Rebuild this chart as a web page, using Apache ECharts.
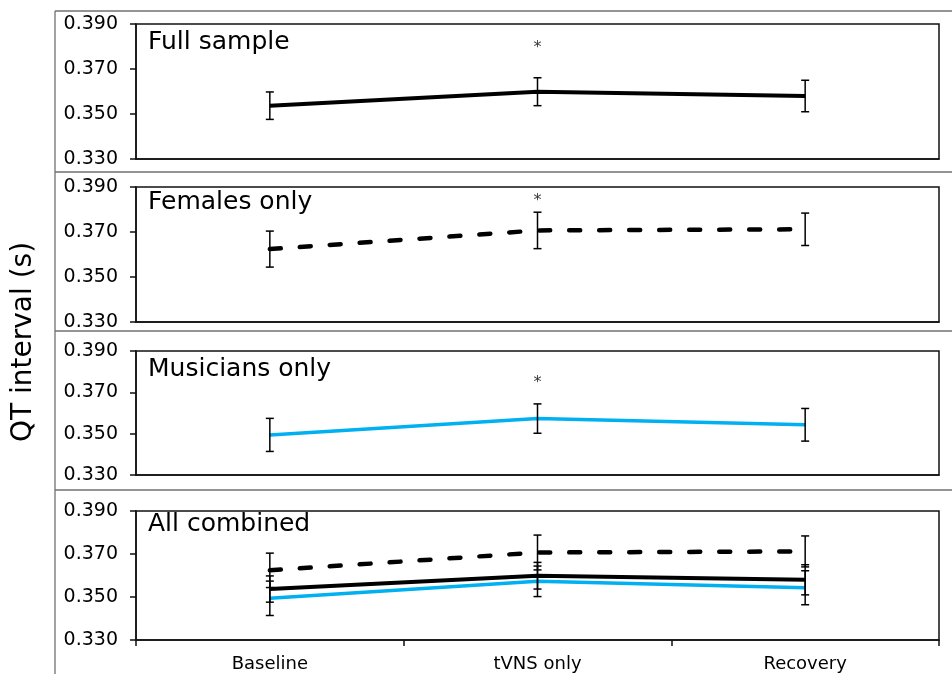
<!DOCTYPE html>
<html>
<head>
<meta charset="utf-8">
<script src="https://cdn.jsdelivr.net/npm/echarts@6/dist/echarts.min.js"></script>
<style>
  html, body { margin: 0; padding: 0; background: #fff; }
  #chart { width: 952px; height: 674px; }
</style>
</head>
<body>
<div id="chart"></div>
<script>
// ---- data ----
const categories = ['Baseline', 'tVNS only', 'Recovery'];
const fullMean = [0.3537, 0.3599, 0.3580];
const fullErr  = [0.0061, 0.0062, 0.0070];
const femMean  = [0.3624, 0.3707, 0.3712];
const femErr   = [0.0080, 0.0081, 0.0072];
const musMean  = [0.3494, 0.3573, 0.3543];
const musErr   = [0.0080, 0.0071, 0.0079];
const yTicks = [0.33, 0.35, 0.37, 0.39];
const panelTitles = ['Full sample', 'Females only', 'Musicians only', 'All combined'];
const starCategory = 'tVNS only';
const starValues = [0.3809, 0.3850, 0.3760];
const yTitle = 'QT interval (s)';

// ---- layout ----
const FONT = 'DejaVu Sans';
const gridBoxes = [
  { top: 24, height: 135 },
  { top: 187, height: 135 },
  { top: 351, height: 124 },
  { top: 511, height: 129 }
];
const titleY = [42, 202.5, 369, 524.5];
const frameY = [11, 172, 331, 490];

const styles = {
  full: { color: '#000000', type: 'solid', width: 4 },
  fem:  { color: '#000000', type: [11, 19], width: 4.5, cap: 'round' },
  mus:  { color: '#00B0F0', type: 'solid', width: 3.5 }
};

const groups = {
  full: { mean: fullMean, err: fullErr },
  fem:  { mean: femMean,  err: femErr },
  mus:  { mean: musMean,  err: musErr }
};
const panelGroups = [['full'], ['fem'], ['mus'], ['fem', 'full', 'mus']];

const grid = [], xAxis = [], yAxis = [], series = [];

gridBoxes.forEach((g, i) => {
  grid.push({
    left: 136, width: 803, top: g.top, height: g.height,
    show: true, borderColor: '#111', borderWidth: 1.5, backgroundColor: 'transparent'
  });
  xAxis.push({
    type: 'category', gridIndex: i, data: categories, boundaryGap: true,
    axisLine: { show: true, lineStyle: { color: '#111', width: 1.5 } },
    axisTick: { show: i === 3, alignWithLabel: false, inside: false, length: 6, lineStyle: { color: '#111', width: 1.5 } },
    axisLabel: { show: i === 3, margin: 15, fontFamily: FONT, fontSize: 18, color: '#000' },
    splitLine: { show: false }
  });
  yAxis.push({
    type: 'value', gridIndex: i, min: 0.33, max: 0.39,
    axisLine: { show: true, lineStyle: { color: '#111', width: 1.5 } },
    axisTick: { show: true, inside: false, length: 6, customValues: yTicks, lineStyle: { color: '#111', width: 1.5 } },
    axisLabel: { show: true, customValues: yTicks, margin: 18, fontFamily: FONT, fontSize: 19, color: '#000',
      formatter: v => Number(v).toFixed(3) },
    splitLine: { show: false }
  });

  panelGroups[i].forEach(key => {
    const s = styles[key], d = groups[key];
    series.push({
      type: 'line', xAxisIndex: i, yAxisIndex: i, data: d.mean,
      symbol: 'none', silent: true, z: 2,
      lineStyle: { color: s.color, width: s.width, type: s.type, cap: s.cap || 'butt' }
    });
  });
  panelGroups[i].forEach(key => {
    const d = groups[key];
    series.push({
      type: 'custom', xAxisIndex: i, yAxisIndex: i, z: 3, silent: true,
      data: d.mean.map((m, j) => [j, m - d.err[j], m + d.err[j]]),
      encode: { x: 0, y: [1, 2] },
      renderItem: function (params, api) {
        const lo = api.coord([api.value(0), api.value(1)]);
        const hi = api.coord([api.value(0), api.value(2)]);
        const w = 4;
        const st = { stroke: '#000', lineWidth: 1.5 };
        return {
          type: 'group', children: [
            { type: 'line', shape: { x1: lo[0], y1: lo[1], x2: hi[0], y2: hi[1] }, style: st },
            { type: 'line', shape: { x1: lo[0] - w, y1: lo[1], x2: lo[0] + w, y2: lo[1] }, style: st },
            { type: 'line', shape: { x1: hi[0] - w, y1: hi[1], x2: hi[0] + w, y2: hi[1] }, style: st }
          ]
        };
      }
    });
  });

  if (i < 3) {
    series.push({
      type: 'scatter', xAxisIndex: i, yAxisIndex: i, silent: true, z: 4,
      data: [[categories.indexOf(starCategory), starValues[i]]],
      symbol: 'circle', symbolSize: 2, itemStyle: { color: 'rgba(0,0,0,0)' },
      label: { show: true, position: 'inside', formatter: '*', fontFamily: FONT, fontSize: 16, color: '#000', offset: [0, 3] }
    });
  }
});

const graphic = [];
// outer frames
frameY.forEach(y => {
  graphic.push({ type: 'line', silent: true, shape: { x1: 55, y1: y, x2: 952, y2: y },
    style: { stroke: '#707070', lineWidth: 1.3 } });
});
graphic.push({ type: 'line', silent: true, shape: { x1: 55, y1: 11, x2: 55, y2: 674 },
  style: { stroke: '#707070', lineWidth: 1.3 } });
// panel titles
panelTitles.forEach((t, i) => {
  graphic.push({ type: 'text', silent: true, x: 148, y: titleY[i],
    style: { text: t, fontFamily: FONT, fontSize: 25, fill: '#000', textAlign: 'left', textVerticalAlign: 'middle' } });
});
// y title
graphic.push({ type: 'text', silent: true, x: 24, y: 342, rotation: Math.PI / 2,
  style: { text: yTitle, fontFamily: FONT, fontSize: 28, fill: '#000', textAlign: 'center', textVerticalAlign: 'middle' } });

const chart = echarts.init(document.getElementById('chart'), null, { renderer: 'canvas' });
chart.setOption({
  animation: false,
  backgroundColor: '#fff',
  grid, xAxis, yAxis, series, graphic
});
</script>
</body>
</html>
